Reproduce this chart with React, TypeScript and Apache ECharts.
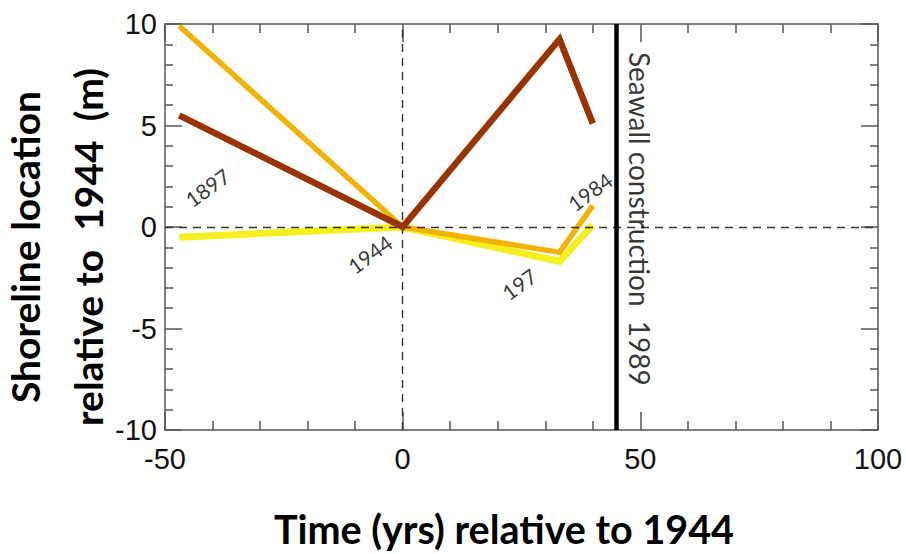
import React, { useEffect, useRef } from "react";
import * as echarts from "echarts";

const years = [-47, 0, 33, 40];
const brownValues = [5.5, 0, 9.25, 5.1];
const orangeValues = [9.9, 0, -1.25, 1.05];
const yellowValues = [-0.5, 0, -1.7, 0.1];
const seawallYear = 45;
const xTicks = { min: -50, max: 100, interval: 50 };
const yTicks = { min: -10, max: 10, interval: 5 };
const yearLabels = ["1897", "1944", "197", "1984"];
const yearLabelPos = [
  [-41.1, 1.95],
  [-6.9, -1.33],
  [24.5, -2.8],
  [39.4, 1.75],
];
const seawallLabel = "Seawall construction  1989";
const seawallLabelPos = [50, 0.4];

const AXIS_COLOR = "#555";
const TICK_FONT = "'Liberation Sans', Arial, sans-serif";
const TITLE_FONT = "Lato, 'Open Sans', sans-serif";

export default function App() {
  const ref = useRef<HTMLDivElement>(null);
  useEffect(() => {
    if (!ref.current) return;
    const chart = echarts.init(ref.current, undefined, { renderer: "svg" });
    const pair = (vals: number[]) => years.map((x, i) => [x, vals[i]]);

    const xBase = (pos: "bottom" | "top", showLabel: boolean) => ({
      type: "value" as const,
      position: pos,
      min: xTicks.min,
      max: xTicks.max,
      interval: xTicks.interval,
      axisLine: { show: true, onZero: false, lineStyle: { color: AXIS_COLOR, width: 1.5 } },
      axisTick: { show: true, inside: true, length: 18, lineStyle: { color: AXIS_COLOR, width: 1.5 } },
      minorTick: { show: true, splitNumber: 5, length: 9, lineStyle: { color: AXIS_COLOR, width: 1.5 } },
      splitLine: { show: false },
      axisLabel: {
        show: showLabel,
        margin: 14,
        fontSize: 29,
        fontFamily: TICK_FONT,
        color: "#111",
      },
    });
    const yBase = (pos: "left" | "right", showLabel: boolean) => ({
      type: "value" as const,
      position: pos,
      min: yTicks.min,
      max: yTicks.max,
      interval: yTicks.interval,
      axisLine: { show: true, onZero: false, lineStyle: { color: AXIS_COLOR, width: 1.5 } },
      axisTick: { show: true, inside: true, length: 17, lineStyle: { color: AXIS_COLOR, width: 1.5 } },
      minorTick: { show: true, splitNumber: 5, length: 8, lineStyle: { color: AXIS_COLOR, width: 1.5 } },
      splitLine: { show: false },
      axisLabel: {
        show: showLabel,
        margin: 8,
        fontSize: 29,
        fontFamily: TICK_FONT,
        color: "#111",
      },
    });

    const labelStyle = {
      show: true,
      position: "inside",
      formatter: "{b}",
      fontFamily: TITLE_FONT,
      color: "#000",
      textBorderWidth: 0,
      textBorderColor: "transparent",
    };

    chart.setOption({
      animation: false,
      backgroundColor: "#fff",
      grid: { left: 165, right: 28, top: 24, bottom: 124 },
      xAxis: [xBase("bottom", true), xBase("top", false)],
      yAxis: [yBase("left", true), yBase("right", false)],
      series: [
        {
          type: "line",
          name: "reference",
          data: [],
          markLine: {
            silent: true,
            symbol: ["none", "none"],
            label: { show: false },
            lineStyle: { color: "#333", width: 1.4, type: [8, 6] },
            data: [{ xAxis: 0 }, { yAxis: 0 }],
          },
        },
        {
          type: "line",
          name: "yellow",
          data: pair(yellowValues),
          showSymbol: false,
          lineStyle: { color: "#F6EF1E", width: 7, join: "miter" },
          z: 3,
        },
        {
          type: "line",
          name: "orange",
          data: pair(orangeValues),
          showSymbol: false,
          lineStyle: { color: "#F2B200", width: 5.5, join: "miter" },
          z: 4,
        },
        {
          type: "line",
          name: "brown",
          data: pair(brownValues),
          showSymbol: false,
          lineStyle: { color: "#993300", width: 6.5, join: "miter" },
          z: 5,
        },
        {
          type: "line",
          name: "seawall",
          data: [],
          markLine: {
            silent: true,
            symbol: ["none", "none"],
            label: { show: false },
            lineStyle: { color: "#000", width: 4.5, type: "solid" },
            data: [{ xAxis: seawallYear }],
          },
          z: 6,
        },
        {
          type: "scatter",
          name: "yearLabels",
          symbolSize: 0,
          itemStyle: { color: "#000" },
          data: yearLabelPos.map((p, i) => ({ value: p, name: yearLabels[i] })),
          label: { ...labelStyle, rotate: 36, fontSize: 21 },
          z: 7,
        },
        {
          type: "scatter",
          name: "seawallLabel",
          symbolSize: 0,
          itemStyle: { color: "#000" },
          data: [{ value: seawallLabelPos, name: seawallLabel }],
          label: { ...labelStyle, rotate: -90, fontSize: 28 },
          z: 7,
        },
      ],
      graphic: [
        {
          type: "text",
          x: 504,
          y: 528,
          style: {
            text: "Time (yrs) relative to 1944",
            fontSize: 39.5,
            fontWeight: "bold",
            fontFamily: TITLE_FONT,
            fill: "#000",
            align: "center",
            verticalAlign: "middle",
          },
        },
        {
          type: "text",
          x: 25,
          y: 247,
          rotation: Math.PI / 2,
          style: {
            text: "Shoreline location",
            fontSize: 39,
            fontWeight: "bold",
            fontFamily: TITLE_FONT,
            fill: "#000",
            align: "center",
            verticalAlign: "middle",
          },
        },
        {
          type: "text",
          x: 88,
          y: 247,
          rotation: Math.PI / 2,
          style: {
            text: "relative to  1944  (m)",
            fontSize: 39,
            fontWeight: "bold",
            fontFamily: TITLE_FONT,
            fill: "#000",
            align: "center",
            verticalAlign: "middle",
          },
        },
      ],
    });
    return () => chart.dispose();
  }, []);
  return (
    <div
      ref={ref}
      style={{ position: "fixed", left: 0, top: 0, width: 906, height: 554 }}
    />
  );
}
